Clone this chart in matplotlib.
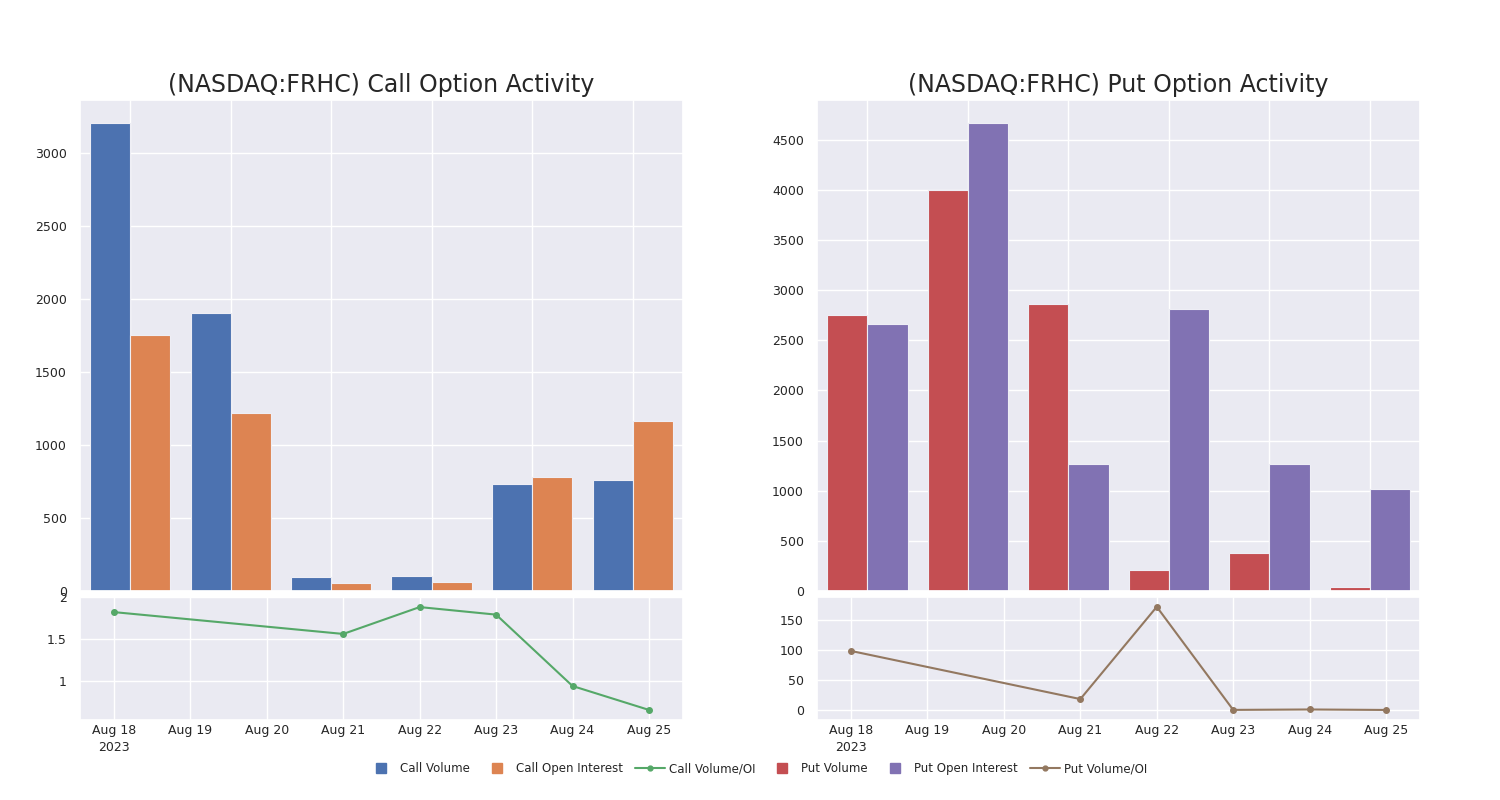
import matplotlib
matplotlib.use("Agg")
import matplotlib.pyplot as plt
import matplotlib.dates as mdates
from matplotlib.lines import Line2D
from matplotlib.ticker import MultipleLocator
import numpy as np
import pandas as pd
import seaborn as sns

dates = ["2023-08-18", "2023-08-21", "2023-08-22", "2023-08-23", "2023-08-24", "2023-08-25"]
call_volume = [3206, 1906, 98, 106, 736, 758]
call_oi = [1755, 1218, 52, 59, 785, 1168]
call_ratio = [1.82, 1.56, 1.88, 1.79, 0.94, 0.655]
put_volume = [2756, 4000, 2866, 210, 378, 35]
put_oi = [2666, 4662, 1263, 2816, 1263, 1012]
put_ratio = [98.3, 18.3, 171.7, 0.3, 1.0, 0.2]
tick_days = ["2023-08-18", "2023-08-19", "2023-08-20", "2023-08-21",
             "2023-08-22", "2023-08-23", "2023-08-24", "2023-08-25"]
tick_labels = ["Aug 18\n2023", "Aug 19", "Aug 20", "Aug 21", "Aug 22", "Aug 23", "Aug 24", "Aug 25"]

sns.set_theme(style="darkgrid")
plt.rcParams["font.family"] = ["DejaVu Sans"]

C_BLUE, C_ORANGE, C_GREEN = "#4c72b0", "#dd8452", "#55a868"
C_RED, C_PURPLE, C_BROWN = "#c44e52", "#8172b3", "#937860"

fig = plt.figure(figsize=(15, 8), dpi=100)

d = pd.to_datetime(dates)
ticks = pd.to_datetime(tick_days)
xl0 = mdates.date2num(pd.Timestamp("2023-08-18")) - 0.445
xl1 = mdates.date2num(pd.Timestamp("2023-08-25")) + 0.445


def panel(x0, title, vol, oi, ratio, c1, c2, c3, ystep, ylim_line, yticks_line, ytl):
    w = 0.402
    axb = fig.add_axes([x0, 0.26125, w, 0.61375])
    axl = fig.add_axes([x0, 0.1, w, 0.15375])
    x = np.arange(len(vol))
    axb.bar(x - 0.2, vol, width=0.4, color=c1, edgecolor="#eeeef5", linewidth=0.8)
    axb.bar(x + 0.2, oi, width=0.4, color=c2, edgecolor="#eeeef5", linewidth=0.8)
    axb.set_xlim(-0.5, 5.5)
    axb.set_ylim(0, max(max(vol), max(oi)) * 1.05)
    axb.yaxis.set_major_locator(MultipleLocator(ystep))
    axb.set_xticks(x)
    axb.set_xticklabels([])
    axb.tick_params(axis="x", length=0)
    axb.tick_params(axis="y", labelsize=9)
    axb.set_title(title, fontsize=17, pad=6)

    axl.plot(mdates.date2num(d), ratio, color=c3, marker="o", markersize=4, linewidth=1.5)
    axl.set_xlim(xl0, xl1)
    axl.set_ylim(*ylim_line)
    axl.set_yticks(yticks_line)
    axl.set_yticklabels(ytl)
    axl.set_xticks(mdates.date2num(ticks))
    axl.set_xticklabels(tick_labels, linespacing=1.35)
    axl.tick_params(labelsize=9)
    axl.tick_params(axis="x", length=0, pad=3)
    return axb, axl


panel(0.0533, "(NASDAQ:FRHC) Call Option Activity", call_volume, call_oi, call_ratio,
      C_BLUE, C_ORANGE, C_GREEN, 500, (0.535, 2.0), [1, 1.5, 2], ["1", "1.5", "2"])
panel(0.5447, "(NASDAQ:FRHC) Put Option Activity", put_volume, put_oi, put_ratio,
      C_RED, C_PURPLE, C_BROWN, 500, (-16.5, 188), [0, 50, 100, 150], ["0", "50", "100", "150"])

handles = [
    Line2D([], [], color=C_BLUE, marker="s", linestyle="none", markersize=6.5),
    Line2D([], [], color=C_ORANGE, marker="s", linestyle="none", markersize=6.5),
    Line2D([], [], color=C_GREEN, marker="o", markersize=3.5, linewidth=1.5),
    Line2D([], [], color=C_RED, marker="s", linestyle="none", markersize=6.5),
    Line2D([], [], color=C_PURPLE, marker="s", linestyle="none", markersize=6.5),
    Line2D([], [], color=C_BROWN, marker="o", markersize=3.5, linewidth=1.5),
]
labels = ["Call Volume", "Call Open Interest", "Call Volume/OI",
          "Put Volume", "Put Open Interest", "Put Volume/OI"]
fig.legend(handles, labels, loc="center", bbox_to_anchor=(0.5042, 0.039), ncol=6,
           frameon=False, fontsize=8.5, handlelength=2.6, columnspacing=1.0,
           handletextpad=0.3)

fig.savefig("out.png", dpi=100, facecolor="white")
